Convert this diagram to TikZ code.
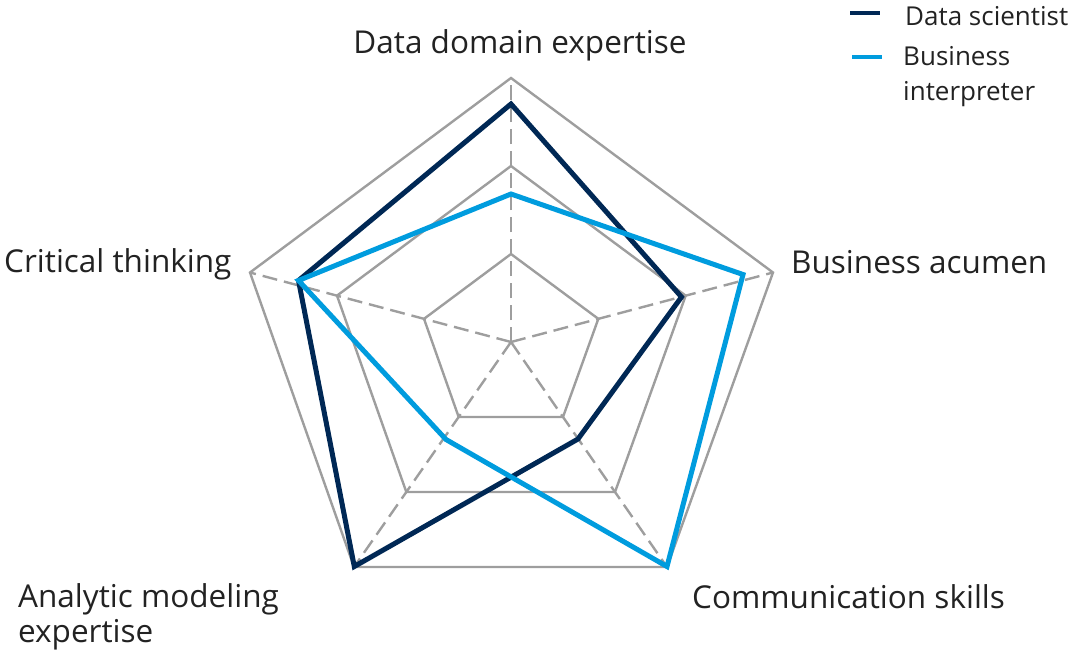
\documentclass[tikz,border=0pt]{standalone}
\usepackage{fontspec}
\usetikzlibrary{calc}
\setmainfont{Open Sans}
\definecolor{navy}{HTML}{002855}
\definecolor{skyblue}{HTML}{009CDE}
\definecolor{gridgray}{HTML}{9E9E9E}
\definecolor{txt}{HTML}{222222}
\tikzset{
  ring/.style={draw=gridgray, line width=2.4pt},
  spoke/.style={draw=gridgray, line width=2.4pt, dash pattern=on 15pt off 7pt},
  dsline/.style={draw=navy, line width=5pt},
  biline/.style={draw=skyblue, line width=5pt},
  axislabel/.style={inner sep=0pt, text=txt, font=\fontsize{31.5}{36}\selectfont},
  legendlabel/.style={inner sep=0pt, text=txt, font=\fontsize{26}{30}\selectfont},
}
\begin{document}
\begin{tikzpicture}[x=1pt,y=-1pt]
\useasboundingbox (0,0) rectangle (1076,653);
% axis end points
\coordinate (C) at (511,342);
\coordinate (T) at (511,78);
\coordinate (R) at (773,272.5);
\coordinate (BR) at (667,567);
\coordinate (BL) at (354,567);
\coordinate (L) at (250,272.5);
% grid rings
\foreach \f in {0.3333,0.6667}{
  \draw[ring] ($(C)!\f!(T)$) -- ($(C)!\f!(R)$) -- ($(C)!\f!(BR)$) -- ($(C)!\f!(BL)$) -- ($(C)!\f!(L)$) -- cycle;
}
\draw[ring] (T) -- (R) -- (BR) -- (BL) -- (L) -- cycle;
% spokes
\foreach \p in {T,R,BR,BL,L}{ \draw[spoke] (C) -- (\p); }
% data scientist
\coordinate (d1) at (511,104);
\coordinate (d2) at (681.5,297);
\coordinate (d3) at (578,439);
\coordinate (d4) at (354.3,566.5);
\coordinate (d5) at (298.5,280.5);
\draw[dsline] (d1) -- (d2) -- (d3) -- (d4) -- (d5) -- cycle;
% business interpreter
\coordinate (b1) at (511,194);
\coordinate (b2) at (743,274.5);
\coordinate (b3) at (667,566.5);
\coordinate (b4) at (446,439.5);
\coordinate (b5) at (298.5,280.5);
\draw[biline] (b1) -- (b2) -- (b3) -- (b4) -- (b5) -- cycle;
% axis labels
\node[axislabel, anchor=base] (lt) at (520,53) {Data domain expertise};
\node[axislabel, anchor=base west] (lr) at (791,273) {Business acumen};
\node[axislabel, anchor=base west] (ll) at (4,272) {Critical thinking};
\node[axislabel, anchor=base west] (lbr) at (692,608) {Communication skills};
\node[axislabel, anchor=base west] (lbl1) at (18,607) {Analytic modeling};
\node[axislabel, anchor=base west] (lbl2) at (18,642) {expertise};
% legend
\coordinate (k1a) at (850,13);
\coordinate (k1b) at (880,13);
\draw[dsline, line width=4.5pt] (k1a) -- (k1b);
\node[legendlabel, anchor=base west] (k1) at (905,25) {Data scientist};
\coordinate (k2a) at (852,57);
\coordinate (k2b) at (882,57);
\draw[biline, line width=4.5pt] (k2a) -- (k2b);
\node[legendlabel, anchor=base west] (k2) at (903,65) {Business};
\node[legendlabel, anchor=base west] (k3) at (903,100) {interpreter};
\end{tikzpicture}
\end{document}
